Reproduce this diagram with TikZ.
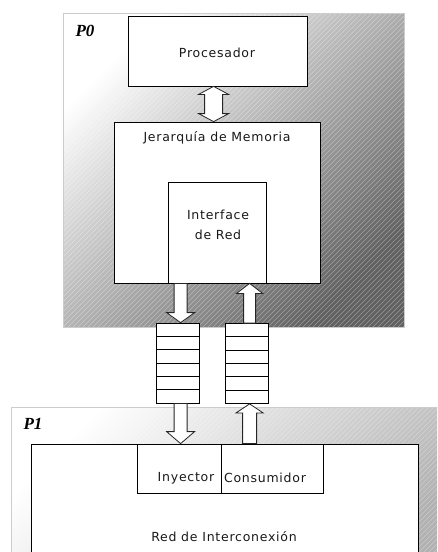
\documentclass[tikz,border=0pt]{standalone}
\usepackage{fontspec}
\usetikzlibrary{calc}
\newfontfamily\boxfont{DejaVu Sans}[LetterSpace=6]
\newfontfamily\lblfont{Liberation Serif}

% block arrow from #1 to #2 (vertical), shaft half width #3, head half width #4, head length #5 (signed)
\newcommand\blockarrow[5]{%
  \draw[blk] let \p1=(#1), \p2=(#2) in
    (\x1-#3pt,\y1) -- (\x1+#3pt,\y1) -- (\x1+#3pt,\y2+#5pt) -- (\x1+#4pt,\y2+#5pt)
    -- (\x1,\y2) -- (\x1-#4pt,\y2+#5pt) -- (\x1-#3pt,\y2+#5pt) -- cycle;}
% double-headed block arrow from #1 (top) to #2 (bottom)
\newcommand\blockarrowboth[5]{%
  \draw[blk] let \p1=(#1), \p2=(#2) in
    (\x1,\y1) -- (\x1+#4pt,\y1-#5pt) -- (\x1+#3pt,\y1-#5pt) -- (\x1+#3pt,\y2+#5pt)
    -- (\x1+#4pt,\y2+#5pt) -- (\x1,\y2) -- (\x1-#4pt,\y2+#5pt) -- (\x1-#3pt,\y2+#5pt)
    -- (\x1-#3pt,\y1-#5pt) -- (\x1-#4pt,\y1-#5pt) -- cycle;}

\tikzset{
  box/.style={draw=black, line width=0.8pt, fill=white, inner sep=0pt},
  txt/.style={font=\boxfont\fontsize{12.5}{20}\selectfont, text=black!90, inner sep=0pt, align=center},
  plabel/.style={font=\lblfont\bfseries\itshape\fontsize{17}{17}\selectfont, inner sep=0pt},
  blk/.style={draw=black!85, line width=0.8pt, fill=white, line join=miter},
  hatch/.style={path picture={
    \foreach \k in {-460,-455,...,460}
      \draw[white, opacity=#1, line width=0.5pt]
        ([xshift=\k pt]path picture bounding box.south west) -- ++(460pt,460pt);}},
  frame/.style 2 args={draw=gray!40, line width=0.8pt, inner sep=0pt,
      top color=#1, bottom color=#2, shading angle=45},
  queue/.style={box, minimum width=43pt, minimum height=80pt, path picture={
    \foreach \i in {1,...,5}
      \draw[line width=0.8pt]
        ($(path picture bounding box.north west)!\i/6!(path picture bounding box.south west)$) --
        ($(path picture bounding box.north east)!\i/6!(path picture bounding box.south east)$);}},
}

\begin{document}
\begin{tikzpicture}[x=1pt,y=-1pt]
\useasboundingbox (0,0) rectangle (437,552);
\clip (0,0) rectangle (437,552);

% processor node P0
\node[frame={white}{black!62}, hatch=0.35,
      minimum width=341pt, minimum height=314pt] (p0) at (233.5,170) {};
\node[plabel] (p0lbl) at (85,31) {P0};

\node[box, minimum width=179pt, minimum height=70pt] (proc) at (217.5,51) {};
\node[txt] (proctxt) at (217,53) {Procesador};

\node[box, minimum width=206pt, minimum height=161pt] (mem) at (217,202.5) {};
\node[txt] (memtxt) at (217,138) {Jerarquía de Memoria};

\node[box, minimum width=98pt, minimum height=101pt] (ifc) at (217,232.5) {};
\node[txt] (ifctxt) at (218,225) {Interface\\de Red};

% message queues
\node[queue] (lq) at (177.5,363) {};
\node[queue] (rq) at (246.5,363.5) {};

% processor node P1
\node[frame={white}{black!30}, hatch=0.3,
      minimum width=439pt, minimum height=163pt] (p1) at (230.5,488.5) {};
\node[plabel] (p1lbl) at (33,424) {P1};

\node[box, minimum width=387pt, minimum height=126pt] (net) at (224.5,507) {};
\node[txt] (nettxt) at (224,537) {Red de Interconexión};

\node[box, minimum width=84pt, minimum height=49pt] (inj) at (179,468.5) {};
\node[box, minimum width=102pt, minimum height=49pt] (cons) at (272,468.5) {};
\node[txt] (injtxt) at (186,478) {Inyector};
\node[txt] (constxt) at (265,478) {Consumidor};

% connectors
\coordinate (a1) at ($(proc.south west)+(86,0)$);
\coordinate (a2) at ($(ifc.south west)+(13,0)$);
\coordinate (a3) at ($(ifc.south west)+(82,0)$);

\blockarrowboth{a1}{a1 |- mem.north}{9}{15}{8}
\blockarrow{a2}{a2 |- lq.north}{6.5}{14}{10}
\blockarrow{a3 |- rq.north}{a3}{6}{13}{-10}
\blockarrow{a2 |- lq.south}{a2 |- inj.north}{6.5}{14}{12}
\blockarrow{a3 |- cons.north}{a3 |- rq.south}{7}{13.5}{-9}
\end{tikzpicture}
\end{document}
